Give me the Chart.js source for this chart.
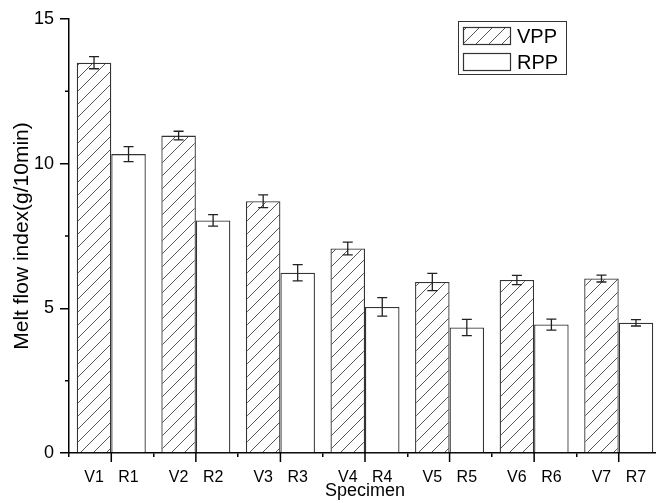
<!DOCTYPE html>
<html>
<head>
<meta charset="utf-8">
<script src="https://cdn.jsdelivr.net/npm/chart.js@4.4.1/dist/chart.umd.min.js"></script>
<style>
  html, body { margin: 0; padding: 0; background: #fff; overflow: hidden; }
  #wrap { width: 661px; height: 503px; }
</style>
</head>
<body>
<div id="wrap"><canvas id="chart"></canvas></div>
<script>
// données
const specimens = ['1', '2', '3', '4', '5', '6', '7'];
const vppLabels = ['V1', 'V2', 'V3', 'V4', 'V5', 'V6', 'V7'];
const rppLabels = ['R1', 'R2', 'R3', 'R4', 'R5', 'R6', 'R7'];
const vppValues = [13.49, 10.97, 8.70, 7.07, 5.91, 5.98, 6.03];
const rppValues = [10.33, 8.04, 6.23, 5.05, 4.34, 4.44, 4.50];
const vppErrors = [0.21, 0.15, 0.22, 0.22, 0.30, 0.16, 0.12];
const rppErrors = [0.26, 0.20, 0.28, 0.32, 0.28, 0.19, 0.11];
const yTicks = [0, 5, 10, 15];
const yMinorTicks = [2.5, 7.5, 12.5];

const FONT = "'Liberation Sans', Arial, sans-serif";

// motif hachuré pour VPP
function makeHatch() {
    const size = 13;
    const c = document.createElement('canvas');
    c.width = size;
    c.height = size;
    const g = c.getContext('2d');
    g.fillStyle = '#fff';
    g.fillRect(0, 0, size, size);
    g.strokeStyle = '#555';
    g.lineWidth = 1;
    g.beginPath();
    g.moveTo(-1, size + 1);
    g.lineTo(size + 1, -1);
    g.moveTo(-2, 2);
    g.lineTo(2, -2);
    g.moveTo(size - 2, size + 2);
    g.lineTo(size + 2, size - 2);
    g.stroke();
    return c;
}
const hatch = document.getElementById('chart').getContext('2d').createPattern(makeHatch(), 'repeat');

const errorsBySet = [vppErrors, rppErrors];
const tickTextBySet = [vppLabels, rppLabels];

// barres d'erreur, graduations, libellés et légende
const extrasPlugin = {
    id: 'extras',
    afterDatasetsDraw(chart) {
        const ctx = chart.ctx;
        const y = chart.scales.y;
        ctx.save();
        ctx.strokeStyle = '#222';
        ctx.lineWidth = 1.3;
        chart.data.datasets.forEach((ds, di) => {
            const meta = chart.getDatasetMeta(di);
            meta.data.forEach((bar, i) => {
                const v = ds.data[i];
                const e = errorsBySet[di][i];
                const yTop = y.getPixelForValue(v + e);
                const yBot = y.getPixelForValue(v - e);
                ctx.beginPath();
                ctx.moveTo(bar.x, yTop);
                ctx.lineTo(bar.x, yBot);
                ctx.moveTo(bar.x - 5, yTop);
                ctx.lineTo(bar.x + 5, yTop);
                ctx.moveTo(bar.x - 5, yBot);
                ctx.lineTo(bar.x + 5, yBot);
                ctx.stroke();
            });
        });
        ctx.restore();
    },
    afterDraw(chart) {
        const ctx = chart.ctx;
        const x = chart.scales.x;
        const y = chart.scales.y;
        const area = chart.chartArea;
        ctx.save();
        ctx.strokeStyle = '#000';
        ctx.lineWidth = 1.5;
        ctx.beginPath();
        // graduations majeures au centre des groupes
        specimens.forEach((s, i) => {
            const px = x.getPixelForValue(i);
            ctx.moveTo(px, area.bottom);
            ctx.lineTo(px, area.bottom + 9);
        });
        // graduations mineures sur l'axe y
        yMinorTicks.forEach(t => {
            const py = y.getPixelForValue(t);
            ctx.moveTo(area.left, py);
            ctx.lineTo(area.left - 4, py);
        });
        ctx.stroke();

        // libellés V / R sous chaque barre
        ctx.fillStyle = '#000';
        ctx.font = '16px ' + FONT;
        ctx.textAlign = 'center';
        ctx.textBaseline = 'alphabetic';
        chart.data.datasets.forEach((ds, di) => {
            const meta = chart.getDatasetMeta(di);
            meta.data.forEach((bar, i) => {
                ctx.fillText(tickTextBySet[di][i], bar.x, 482);
            });
        });

        // légende encadrée
        const lx = 458, ly = 21, lw = 108, lh = 53;
        ctx.lineWidth = 1;
        ctx.strokeStyle = '#333';
        ctx.strokeRect(lx + 0.5, ly + 0.5, lw, lh);
        ctx.font = '20px ' + FONT;
        ctx.textAlign = 'left';
        ctx.textBaseline = 'middle';
        chart.data.datasets.forEach((ds, di) => {
            const sy = ly + 6 + di * 26;
            ctx.fillStyle = ds.backgroundColor;
            ctx.fillRect(lx + 5, sy, 47, 17);
            ctx.strokeStyle = '#333';
            ctx.lineWidth = 1.2;
            ctx.strokeRect(lx + 5.5, sy + 0.5, 47, 17);
            ctx.fillStyle = '#000';
            ctx.fillText(ds.label, lx + 59, sy + 10);
        });
        ctx.restore();
    }
};

new Chart(document.getElementById('chart'), {
    type: 'bar',
    data: {
        labels: specimens,
        datasets: [
            {
                label: 'VPP',
                data: vppValues,
                backgroundColor: hatch,
                borderColor: '#333',
                borderWidth: 1.3,
                categoryPercentage: 0.816,
                barPercentage: 1.0
            },
            {
                label: 'RPP',
                data: rppValues,
                backgroundColor: '#fff',
                borderColor: '#333',
                borderWidth: 1.3,
                categoryPercentage: 0.816,
                barPercentage: 1.0
            }
        ]
    },
    options: {
        responsive: true,
        maintainAspectRatio: false,
        animation: false,
        devicePixelRatio: 1,
        layout: { padding: { top: 19, right: 0, left: 0, bottom: 0 } },
        plugins: {
            legend: { display: false },
            tooltip: { enabled: false }
        },
        scales: {
            x: {
                offset: true,
                grid: {
                    display: true,
                    drawOnChartArea: false,
                    drawTicks: true,
                    tickLength: 4,
                    offset: true,
                    color: '#000',
                    lineWidth: 1.5
                },
                border: { display: true, color: '#000', width: 1.5 },
                ticks: { display: false },
                title: {
                    display: true,
                    text: 'Specimen',
                    color: '#000',
                    font: { family: FONT, size: 18 },
                    padding: { top: 0, bottom: 1 }
                },
                afterFit(scale) { scale.height = 50; }
            },
            y: {
                min: 0,
                max: 15,
                afterBuildTicks(scale) {
                    scale.ticks = yTicks.map(v => ({ value: v }));
                },
                grid: {
                    display: true,
                    drawOnChartArea: false,
                    drawTicks: true,
                    tickLength: 9,
                    color: '#000',
                    lineWidth: 1.5
                },
                border: { display: true, color: '#000', width: 1.5 },
                ticks: {
                    color: '#000',
                    padding: 6,
                    font: { family: FONT, size: 18 }
                },
                title: {
                    display: true,
                    text: 'Melt flow index(g/10min)',
                    color: '#000',
                    font: { family: FONT, size: 21 },
                    padding: { top: 10, bottom: 0 }
                },
                afterFit(scale) { scale.width = 69; }
            }
        }
    },
    plugins: [extrasPlugin]
});
</script>
</body>
</html>
